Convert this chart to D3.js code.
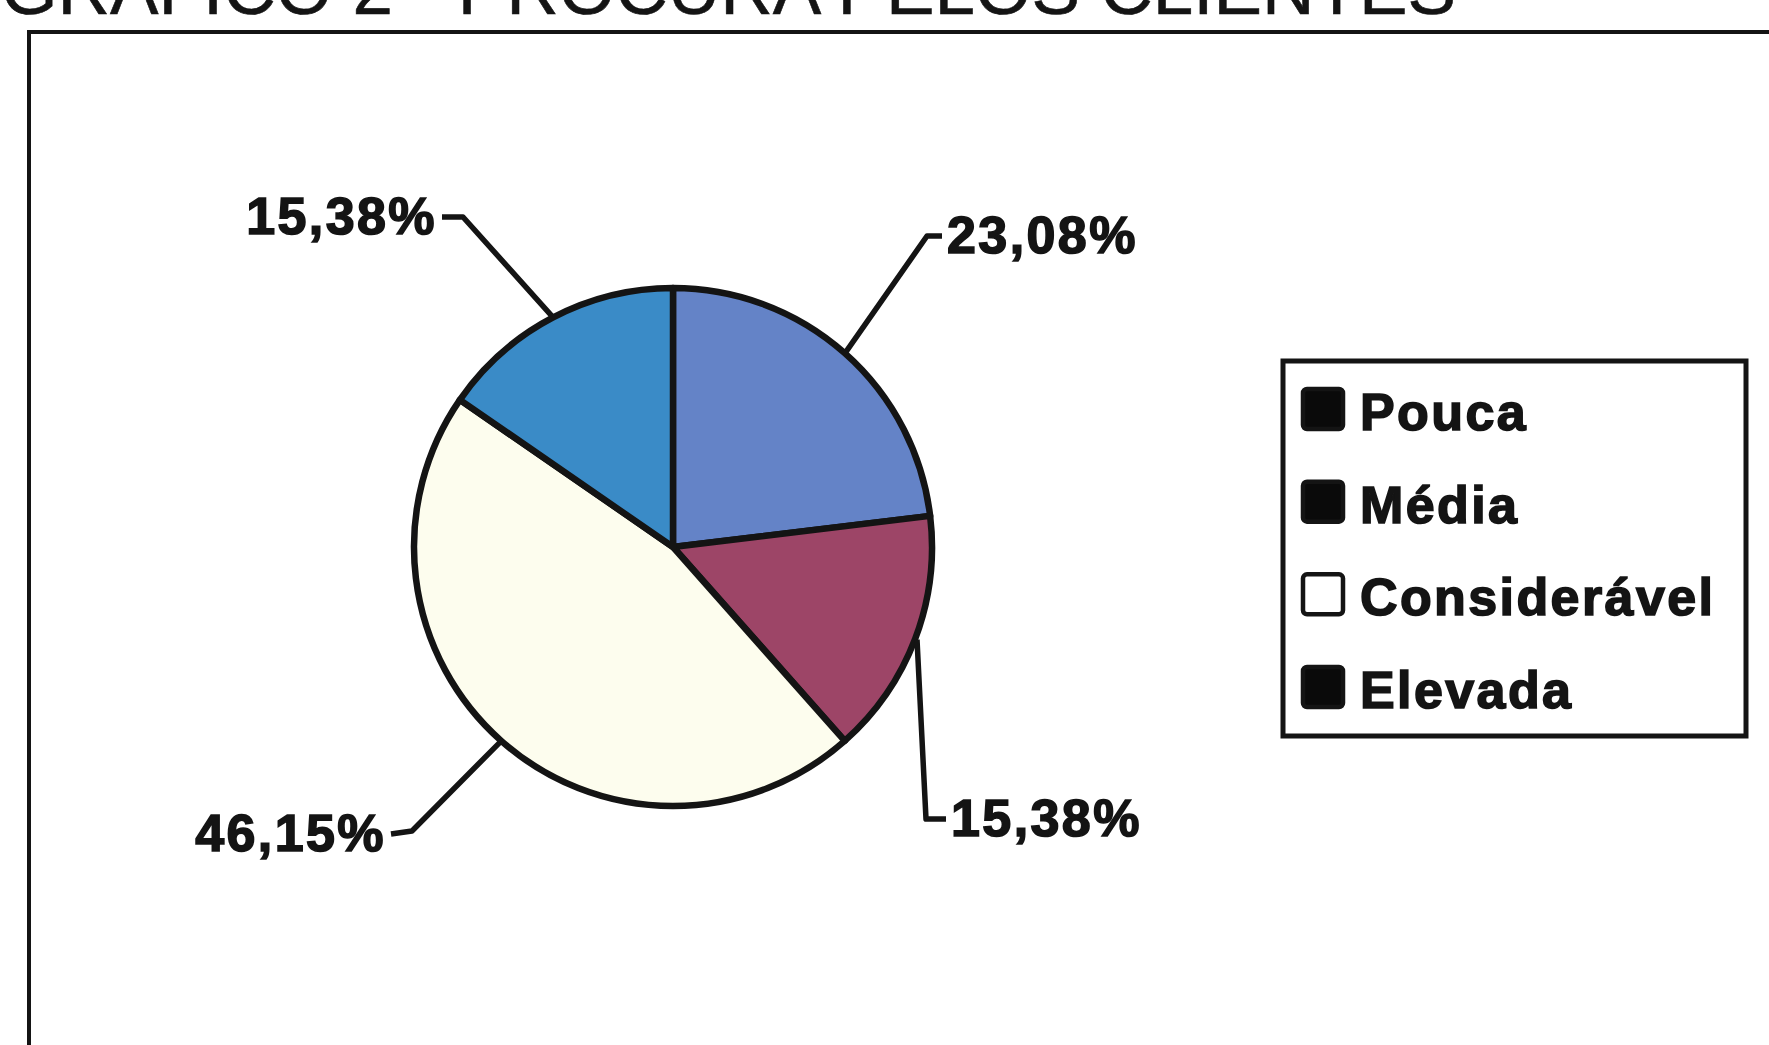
<!DOCTYPE html>
<html>
<head>
<meta charset="utf-8">
<script src="https://cdn.jsdelivr.net/npm/d3@7/dist/d3.min.js"></script>
<style>
  html, body { margin: 0; padding: 0; background: #ffffff; }
  svg { display: block; }
</style>
</head>
<body>
<svg id="chart" width="1769" height="1045"></svg>
<script>
// Demand from customers, share of answers by level
const categories = ["Pouca", "Média", "Considerável", "Elevada"];
const values = [23.08, 15.38, 46.15, 15.38];
const valueLabels = ["23,08%", "15,38%", "46,15%", "15,38%"];
const sliceColors = ["#6483c7", "#9d4567", "#fdfdee", "#3a8bc7"];
const legendSwatchColors = ["#0a0a0a", "#0a0a0a", "#ffffff", "#0a0a0a"];
const titleText = "GRÁFICO 2 - PROCURA PELOS CLIENTES";

// Layout
const W = 1769, H = 1045;
const cx = 673, cy = 547, R = 259;
const ink = "#141414";
const labelFont = "'Liberation Sans', Arial, Helvetica, sans-serif";

// Leader elbows, relative to the pie centre, and which side the label sits on
const leaderLayout = [
  { elbow: [254, -311], side: 1, run: 15 },   // Pouca
  { elbow: [253, 272], side: 1, run: 20 },    // Média
  { elbow: [-261, 284], side: -1, run: 21 },  // Considerável
  { elbow: [-210, -330], side: -1, run: 21 }  // Elevada
];

const svg = d3.select("#chart");

// Title (runs off the top edge of the sheet)
svg.append("text")
  .attr("x", 1)
  .attr("y", 14)
  .attr("textLength", 1455)
  .attr("lengthAdjust", "spacingAndGlyphs")
  .attr("font-family", labelFont)
  .attr("font-size", 72)
  .attr("fill", ink)
  .attr("stroke", ink)
  .attr("stroke-width", 0.6)
  .text(titleText);

// Chart frame
svg.append("rect")
  .attr("x", 29).attr("y", 32)
  .attr("width", W + 40).attr("height", H + 40)
  .attr("fill", "none")
  .attr("stroke", ink)
  .attr("stroke-width", 4);

const pie = d3.pie().sort(null).value(d => d)(values);
const arc = d3.arc().innerRadius(0).outerRadius(R);

const g = svg.append("g").attr("transform", `translate(${cx},${cy})`);

g.selectAll("path.slice")
  .data(pie)
  .join("path")
  .attr("class", "slice")
  .attr("d", arc)
  .attr("fill", (d, i) => sliceColors[i])
  .attr("stroke", ink)
  .attr("stroke-width", 6.5)
  .attr("stroke-linejoin", "round");

// Leader lines and value labels
pie.forEach((d, i) => {
  const mid = (d.startAngle + d.endAngle) / 2;
  const p0 = [Math.sin(mid) * (R + 2), -Math.cos(mid) * (R + 2)];
  const lay = leaderLayout[i];
  const p1 = lay.elbow;
  const p2 = [p1[0] + lay.side * lay.run, p1[1] + (lay.side < 0 && p1[1] > 0 ? 3 : 0)];
  g.append("path")
    .attr("d", d3.line()([p0, p1, p2]))
    .attr("fill", "none")
    .attr("stroke", ink)
    .attr("stroke-width", 5.5)
    .attr("stroke-linejoin", "round");
  g.append("text")
    .attr("x", p2[0] + lay.side * 5)
    .attr("y", p2[1] + 17)
    .attr("text-anchor", lay.side > 0 ? "start" : "end")
    .attr("font-family", labelFont)
    .attr("font-weight", "bold")
    .attr("font-size", 52)
    .attr("letter-spacing", 2.4)
    .attr("fill", ink)
    .attr("stroke", ink)
    .attr("stroke-width", 1.6)
    .text(valueLabels[i]);
});

// Legend
const legend = svg.append("g").attr("transform", "translate(1283,361)");
legend.append("rect")
  .attr("x", 0).attr("y", 0)
  .attr("width", 463).attr("height", 375)
  .attr("fill", "#ffffff")
  .attr("stroke", ink)
  .attr("stroke-width", 5);

const rowY = d3.scaleLinear().domain([0, categories.length - 1]).range([69, 347]);
const items = legend.selectAll("g.item")
  .data(categories)
  .join("g")
  .attr("class", "item")
  .attr("transform", (d, i) => `translate(0,${rowY(i)})`);

items.append("rect")
  .attr("x", 20).attr("y", -41)
  .attr("width", 40).attr("height", 40)
  .attr("rx", 4)
  .attr("fill", (d, i) => legendSwatchColors[i])
  .attr("stroke", ink)
  .attr("stroke-width", 4.5);

items.append("text")
  .attr("x", 77)
  .attr("y", 0)
  .attr("font-family", labelFont)
  .attr("font-weight", "bold")
  .attr("font-size", 52)
  .attr("letter-spacing", 2.4)
  .attr("fill", ink)
  .attr("stroke", ink)
  .attr("stroke-width", 1.6)
  .text(d => d);
</script>
</body>
</html>
